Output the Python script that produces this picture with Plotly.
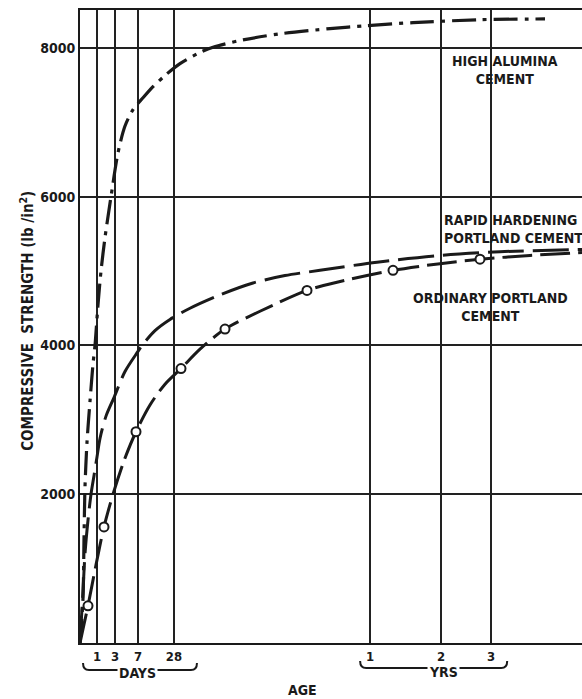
import plotly.graph_objects as go

# x values are positions on the chart's schematic age scale (0 = origin)
# High alumina cement
ha_x = [0, 3, 4, 5, 7, 10, 13, 15, 18, 21, 25, 31, 38, 45, 53, 63, 73, 85, 100, 120, 133, 160, 200, 250, 287, 333, 400, 465]
ha_y = [0, 600, 1400, 2100, 2700, 3250, 3750, 4000, 4550, 5000, 5450, 6000, 6590, 6950, 7170, 7330, 7480, 7630, 7790, 7940, 8010, 8100, 8190, 8260, 8300, 8340, 8380, 8390]

# Rapid hardening portland cement
rh_x = [0, 3, 5, 8, 11, 14, 17, 20, 26, 34, 45, 58, 62, 75, 90, 110, 140, 173, 205, 240, 297, 360, 420, 502]
rh_y = [0, 700, 1200, 1650, 2000, 2250, 2500, 2750, 3050, 3300, 3650, 3920, 4000, 4200, 4350, 4500, 4680, 4840, 4940, 5010, 5120, 5210, 5260, 5290]

# Ordinary portland cement
opc_x = [0, 4, 8, 16, 24, 33, 44, 56, 70, 85, 101, 120, 145, 180, 227, 257, 313, 360, 400, 450, 502]
opc_y = [0, 250, 500, 1050, 1560, 2000, 2450, 2840, 3200, 3480, 3690, 3950, 4220, 4460, 4740, 4850, 5010, 5100, 5160, 5210, 5250]

# measured test points (circles)
opc_pts_x = [8, 24, 56, 101, 145, 227, 313, 400]
opc_pts_y = [500, 1560, 2840, 3690, 4220, 4740, 5010, 5160]

age_tick_pos = [17, 35, 58, 94, 290, 361, 411]
age_tick_text = ["1", "3", "7", "28", "1", "2", "3"]
strength_ticks = [2000, 4000, 6000, 8000]

FONT = "DejaVu Sans Condensed, Liberation Sans Narrow, Arial Narrow, sans-serif"
INK = "#1a1a1a"

fig = go.Figure()

fig.add_trace(go.Scatter(
    x=ha_x, y=ha_y, mode="lines",
    line=dict(color=INK, width=3.2, dash="24px,7px,4px,7px", shape="spline", smoothing=0.8),
))
fig.add_trace(go.Scatter(
    x=rh_x, y=rh_y, mode="lines",
    line=dict(color=INK, width=3, dash="36px,9px", shape="spline", smoothing=0.8),
))
fig.add_trace(go.Scatter(
    x=opc_x, y=opc_y, mode="lines",
    line=dict(color=INK, width=3, dash="30px,8px", shape="spline", smoothing=0.8),
))
fig.add_trace(go.Scatter(
    x=opc_pts_x, y=opc_pts_y, mode="markers",
    marker=dict(symbol="circle", size=9, color="white", line=dict(color=INK, width=2)),
))

ann_font = dict(family=FONT, size=14, color=INK, weight="bold")

annotations = [
    dict(x=425, y=7700, xref="x", yref="y", text="HIGH ALUMINA<br>CEMENT",
         showarrow=False, font=ann_font, align="center"),
    dict(x=362, y=5566, xref="x", yref="y", text="RAPID HARDENING<br>PORTLAND CEMENT",
         showarrow=False, font=ann_font, align="left", xanchor="left"),
    dict(x=410, y=4511, xref="x", yref="y", text="ORDINARY PORTLAND<br>CEMENT",
         showarrow=False, font=ann_font, align="center"),
    dict(x=-0.1056, y=0.509, xref="paper", yref="paper", xanchor="center", yanchor="middle",
         text="COMPRESSIVE  STRENGTH (lb /in<sup>2</sup>)", textangle=-90,
         showarrow=False, font=dict(family=FONT, size=15, color=INK, weight="bold")),
    dict(x=57 / 502, y=-0.0474, xref="paper", yref="paper", xanchor="center", yanchor="middle",
         text="DAYS", showarrow=False, font=ann_font, bgcolor="white", borderpad=1),
    dict(x=363 / 502, y=-0.0458, xref="paper", yref="paper", xanchor="center", yanchor="middle",
         text="YRS", showarrow=False, font=ann_font, bgcolor="white", borderpad=1),
    dict(x=222 / 502, y=-0.0742, xref="paper", yref="paper", xanchor="center", yanchor="middle",
         text="AGE", showarrow=False, font=ann_font),
]

brace = dict(type="path", xref="paper", yref="paper", line=dict(color=INK, width=2), layer="below")
shapes = [
    dict(brace, path="M 0.006,-0.0316 Q 0.006,-0.0427 0.018,-0.0427 L 0.221,-0.0427 Q 0.233,-0.0427 0.233,-0.0316"),
    dict(brace, path="M 0.558,-0.0284 Q 0.558,-0.0395 0.570,-0.0395 L 0.839,-0.0395 Q 0.851,-0.0395 0.851,-0.0284"),
]

fig.update_layout(
    width=582, height=699,
    margin=dict(l=80, r=0, t=10, b=56),
    paper_bgcolor="white", plot_bgcolor="white",
    showlegend=False,
    annotations=annotations,
    shapes=shapes,
    font=dict(family=FONT, color=INK),
)

fig.update_xaxes(
    range=[0, 502], tickmode="array", tickvals=age_tick_pos, ticktext=age_tick_text,
    showgrid=True, gridcolor="#222", gridwidth=1.5, zeroline=False,
    showline=True, linecolor=INK, linewidth=2, mirror=True, ticks="",
    tickfont=dict(family=FONT, size=13, color=INK, weight="bold"),
)
fig.update_yaxes(
    range=[0, 8510], tickmode="array", tickvals=strength_ticks,
    showgrid=True, gridcolor="#222", gridwidth=1.5, zeroline=False,
    showline=True, linecolor=INK, linewidth=2, ticks="",
    tickfont=dict(family=FONT, size=14, color=INK, weight="bold"),
)

# drop the browser's default page margin so the figure sits at the window's corner
fig.write_html("out.html", config={"displayModeBar": False},
               post_script="document.body.style.margin='0';")
